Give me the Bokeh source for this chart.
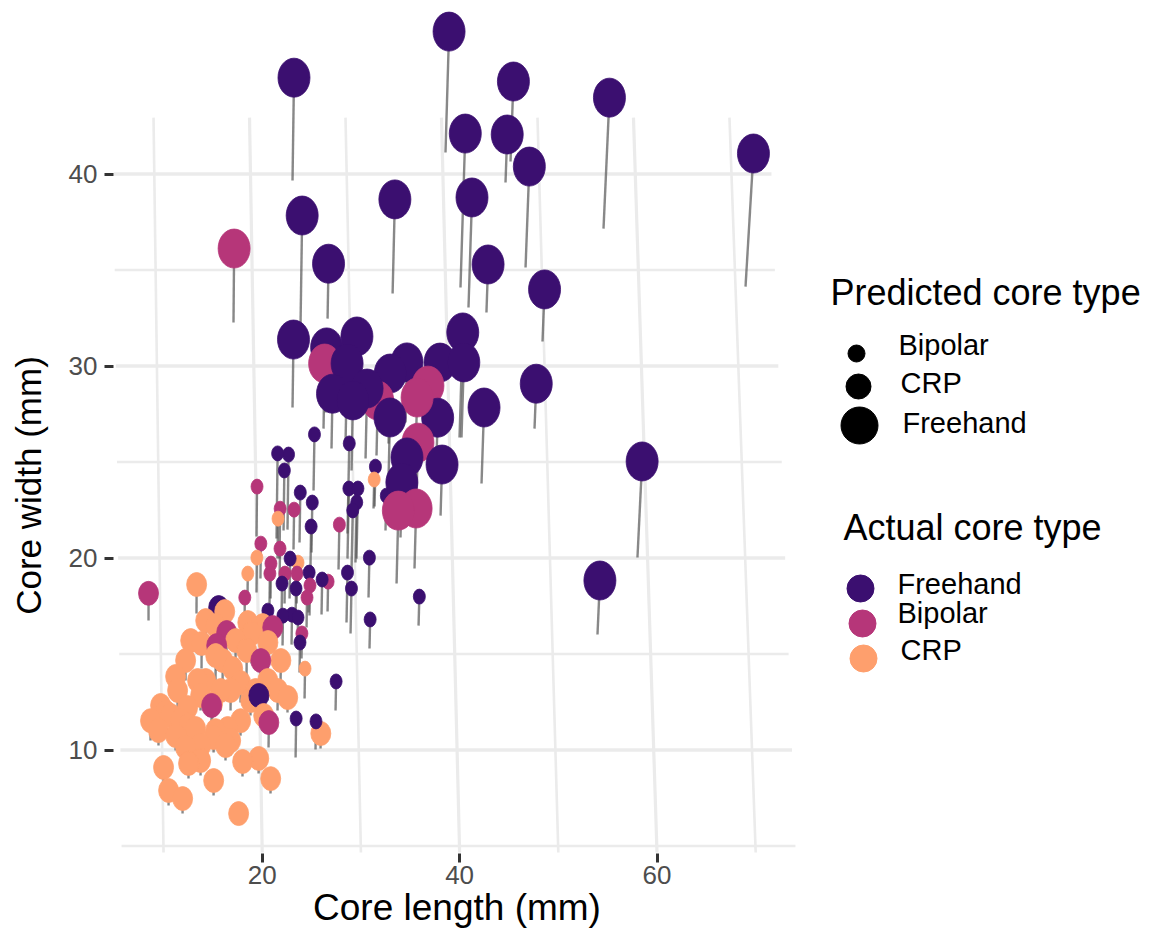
import numpy as np
from bokeh.plotting import figure
from bokeh.models import Range1d, FixedTicker, ColumnDataSource
from bokeh.layouts import row
from bokeh.embed import file_html
from bokeh.resources import INLINE
from bokeh.core.properties import value

FONT = "Liberation Sans"

# ---- categories & colours -------------------------------------------------
actual_levels = ["Freehand", "Bipolar", "CRP"]
predicted_levels = ["Bipolar", "CRP", "Freehand"]
actual_colors = {"Freehand": "#3B0F70", "Bipolar": "#B63679", "CRP": "#FE9F6D"}
head_w = {"Bipolar": 12, "CRP": 20, "Freehand": 32}
head_h = {"Bipolar": 15, "CRP": 24, "Freehand": 39}

# ---- data: (core length mm, core width mm, elevation) per actual/predicted group
ff_length = [38.57, 23.07, 45.16, 54.58, 40.09, 44.65, 68.97, 46.68, 40.90, 33.21, 23.88, 26.62,
             42.72, 48.40, 23.07, 47.59, 42.22, 58.02, 53.97, 38.07, 39.99, 37.87, 40.19, 37.66,
             34.51, 32.80, 32.80, 34.51, 34.01, 26.41, 29.45, 28.44, 27.02, 29.05, 30.47]
ff_width = [41.12, 39.66, 40.65, 37.16, 34.09, 39.56, 34.14, 35.13, 33.05, 33.78, 32.11, 32.47,
            32.79, 31.28, 27.84, 26.74, 23.88, 20.03, 16.02, 22.21, 26.28, 27.58, 26.28, 25.23,
            27.06, 25.96, 24.19, 22.11, 21.07, 27.58, 27.89, 25.96, 25.70, 24.56, 25.18]
ff_elev = [6.30, 5.36, 4.17, 6.82, 8.02, 2.50, 6.93, 5.26, 5.73, 4.90, 5.73, 2.86,
           2.50, 2.71, 3.54, 2.34, 3.96, 5.00, 2.81, 2.66, 5.47, 2.60, 3.91, 2.08,
           3.13, 3.65, 3.13, 3.13, 2.86, 3.39, 3.65, 4.17, 2.86, 3.65, 3.65]

bf_length = [17.09, 26.21, 31.58, 36.65, 35.53, 35.63, 33.61, 35.43]
bf_width = [32.27, 26.74, 25.34, 26.38, 25.23, 23.15, 18.67, 19.45]
bf_elev = [3.85, 3.39, 2.86, 2.60, 3.13, 2.86, 3.80, 3.13]

fb_length = [25.20, 28.64, 21.45, 22.56, 22.16, 31.38, 28.64, 29.55, 29.45, 29.05, 23.78, 24.99,
             24.89, 32.49, 30.77, 35.84, 22.77, 24.69, 26.01, 28.54, 28.95, 21.96, 23.38, 20.54,
             22.06, 22.97, 23.58, 23.78, 30.87, 27.43, 23.38, 25.40]
fb_width = [23.52, 21.28, 21.02, 21.48, 21.43, 22.68, 19.97, 19.97, 19.77, 19.35, 20.81, 20.29,
            19.56, 21.43, 17.94, 16.48, 17.89, 17.16, 17.06, 16.64, 16.07, 16.85, 16.85, 15.70,
            15.44, 15.49, 15.34, 14.04, 15.29, 12.06, 9.61, 10.03]
fb_elev = [2.92, 4.69, 4.43, 3.91, 3.13, 2.08, 3.65, 3.65, 3.13, 3.13, 2.60, 2.60,
           2.08, 1.82, 2.08, 1.51, 2.08, 2.08, 1.82, 2.60, 2.34, 1.82, 1.56, 1.56,
           1.56, 1.56, 1.56, 1.56, 1.51, 1.51, 2.03, 1.46]

fc_length = [19.63, 15.57]
fc_width = [11.54, 16.12]
fc_elev = [1.30, 1.30]

bb_length = [19.42, 21.75, 23.17, 27.73, 19.82, 21.75, 20.84, 20.74, 22.26, 23.48, 26.62, 24.79,
             24.49, 18.21, 23.98]
bb_width = [21.12, 19.97, 20.44, 19.40, 18.93, 18.41, 17.89, 17.63, 17.63, 17.63, 17.21, 17.01,
            16.38, 16.64, 14.77]
bb_elev = [2.60, 2.60, 2.08, 2.34, 1.82, 2.08, 1.82, 1.56, 1.56, 1.56, 1.56, 1.56,
           1.56, 1.30, 1.30]

cb_length = [31.28, 21.55, 19.42, 23.58, 18.51, 24.29]
cb_width = [22.58, 19.97, 18.20, 18.20, 17.89, 12.68]
cb_elev = [1.51, 2.08, 1.82, 1.56, 1.30, 1.56]

bc_length = [8.48, 16.38, 15.37, 21.04, 19.82, 14.86, 20.64]
bc_width = [16.75, 14.82, 14.14, 15.34, 13.10, 11.28, 10.13]
bc_elev = [1.41, 1.30, 1.30, 1.04, 1.56, 1.04, 1.30]

cc_length = [13.34, 16.18, 14.26, 18.51, 18.91, 20.54, 13.85, 18.41, 15.98, 11.22, 13.44, 17.80,
             20.54, 21.55, 22.56, 11.42, 14.96, 9.70, 12.43, 20.13, 25.91, 9.49, 11.22, 13.24,
             15.27, 16.49, 12.53, 10.00, 12.53, 12.23, 15.07, 18.00, 19.63, 15.07, 20.84, 10.51,
             11.93, 17.60, 15.27, 12.23, 16.79, 18.81, 13.75, 10.71, 17.80, 13.75, 16.79, 20.03,
             10.20, 11.72, 14.26, 15.78, 16.99, 19.32, 12.74, 17.29, 15.27, 21.86, 8.68, 13.75,
             16.28]
cc_width = [17.11, 15.91, 15.44, 15.08, 14.51, 14.04, 14.25, 13.88, 13.36, 12.79, 12.32, 12.47,
            12.58, 12.06, 11.95, 12.06, 11.64, 11.54, 11.43, 11.02, 10.08, 10.23, 9.97, 10.34,
            10.23, 10.34, 10.49, 8.31, 8.52, 9.35, 9.87, 8.62, 8.78, 7.63, 7.73, 7.11,
            6.69, 6.17, 15.18, 13.62, 12.06, 11.80, 12.06, 11.02, 10.75, 9.45, 9.71, 15.44,
            11.20, 10.76, 12.58, 12.06, 13.20, 12.32, 14.40, 14.40, 13.62, 13.62, 10.49, 8.67,
            9.45]
cc_elev = [1.51, 1.30, 1.30, 1.56, 1.56, 1.56, 1.30, 1.30, 1.30, 1.04, 1.30, 1.04,
           1.04, 1.04, 0.78, 1.04, 0.78, 0.78, 0.78, 0.78, 0.78, 0.78, 0.78, 0.78,
           0.78, 0.78, 0.78, 0.78, 0.78, 0.78, 0.78, 0.78, 0.78, 0.78, 0.78, 0.78,
           0.78, 0.52, 1.30, 1.04, 1.04, 0.78, 0.78, 0.78, 0.78, 0.78, 0.78, 1.04,
           0.78, 0.78, 1.04, 1.04, 1.04, 0.78, 1.30, 1.30, 1.30, 1.04, 1.04, 0.78,
           0.78]

groups = [
    ("Freehand", "Freehand", ff_length, ff_width, ff_elev),
    ("Bipolar", "Freehand", bf_length, bf_width, bf_elev),
    ("Freehand", "Bipolar", fb_length, fb_width, fb_elev),
    ("Freehand", "CRP", fc_length, fc_width, fc_elev),
    ("Bipolar", "Bipolar", bb_length, bb_width, bb_elev),
    ("CRP", "Bipolar", cb_length, cb_width, cb_elev),
    ("Bipolar", "CRP", bc_length, bc_width, bc_elev),
    ("CRP", "CRP", cc_length, cc_width, cc_elev),
]

# tick labels
x_ticks = [20, 40, 60]
y_ticks = [10, 20, 30, 40]

# ---- assemble -------------------------------------------------------------
L, W, E, A, P = [], [], [], [], []
for act, pred, ln, wd, ev in groups:
    L += ln; W += wd; E += ev; A += [act] * len(ln); P += [pred] * len(ln)
L = np.array(L); W = np.array(W); E = np.array(E)
order = np.argsort(-W, kind="stable")      # far (wide) first, near on top
L, W, E = L[order], W[order], E[order]
A = [A[i] for i in order]; P = [P[i] for i in order]

lean = 0.00192                              # perspective lean of the stems
head_x = L + E * lean * (L - 8.7)
head_y = W + E

src = ColumnDataSource(dict(
    x0=L, y0=W, x1=head_x, y1=head_y,
    color=[actual_colors[a] for a in A],
    w=[head_w[p] for p in P], h=[head_h[p] for p in P],
))

# ---- y-axis title strip --------------------------------------------------------
yt = figure(width=50, height=930, output_backend="svg", toolbar_location=None,
            x_range=Range1d(0, 50), y_range=Range1d(853, 0), min_border=0)
yt.axis.visible = False
yt.grid.visible = False
yt.outline_line_color = None
yt.text(x=[28], y=[485], text=["Core width (mm)"], angle=np.pi / 2,
        text_font=value(FONT), text_font_size="35px", text_color="black",
        text_align="center", text_baseline="middle")

# ---- main figure ------------------------------------------------------------
p = figure(width=750, height=930, output_backend="svg", toolbar_location=None,
           x_range=Range1d(4.93, 74.54), y_range=Range1d(4.61, 49.04),
           min_border_left=63, min_border_right=0, min_border_top=0, min_border_bottom=77)
p.outline_line_color = None
p.xgrid.visible = False
p.ygrid.visible = False
p.background_fill_color = "white"
p.border_fill_color = "white"

# tilted panel grid (perspective of the base plane)
gx = np.array([10, 20, 30, 40, 50, 60, 70], dtype=float)
gx_major = np.isin(gx, x_ticks)
p.segment(x0=gx, y0=np.full_like(gx, 4.66), x1=0.9726 * gx - 0.74, y1=np.full_like(gx, 42.94),
          line_color="#EBEBEB", line_width=np.where(gx_major, 3.2, 2.6))
gy = np.array([5, 10, 15, 20, 25, 30, 35, 40], dtype=float)
gy_major = np.isin(gy, y_ticks)
p.segment(x0=5.745 - (gy - 5) * 0.02316, y0=gy, x1=74.03 - (gy - 5) * 0.06947, y1=gy,
          line_color="#EBEBEB", line_width=np.where(gy_major, 3.4, 2.6))

# stems then heads
p.segment(x0="x0", y0="y0", x1="x1", y1="y1", source=src,
          line_color="#555555", line_alpha=0.7, line_width=2.4)
p.ellipse(x="x1", y="y1", width="w", height="h", width_units="screen", height_units="screen",
          source=src, fill_color="color", line_color="color", line_width=0.8)

for ax in (p.xaxis, p.yaxis):
    ax.axis_line_color = None
    ax.major_tick_line_color = "#333333"
    ax.major_tick_line_width = 3
    ax.major_tick_out = 9
    ax.major_tick_in = 0
    ax.minor_tick_line_color = None
    ax.major_label_text_font = FONT
    ax.major_label_text_font_size = "26px"
    ax.major_label_text_color = "#4D4D4D"
    ax.axis_label_text_font = FONT
    ax.axis_label_text_font_style = "normal"
    ax.axis_label_text_color = "black"
p.xaxis.axis_label_text_font_size = "37px"
p.xaxis.ticker = FixedTicker(ticks=x_ticks)
p.yaxis.ticker = FixedTicker(ticks=y_ticks)
p.xaxis.axis_label = "Core length (mm)"
p.xaxis.major_label_standoff = 3
p.xaxis.axis_label_standoff = 0
p.yaxis.major_label_standoff = 7

# ---- legend panel (frame is aligned with the main frame: 853 px tall) -------
lg = figure(width=353, height=930, output_backend="svg", toolbar_location=None,
            x_range=Range1d(800, 1153), y_range=Range1d(853, 0),
            min_border=0)
lg.axis.visible = False
lg.grid.visible = False
lg.outline_line_color = None

lg.text(x=[830], y=[292], text=["Predicted core type"], text_font=value(FONT),
        text_font_size="36px", text_color="black", text_baseline="alphabetic")
lg.scatter(x=[856, 858, 859], y=[353, 386, 425], size=[17, 25, 37],
           fill_color="black", line_color="black")
lg.text(x=[898, 900, 902], y=[344, 382, 422], text=predicted_levels, text_font=value(FONT),
        text_font_size="29px", text_color="black", text_baseline="alphabetic")

lg.text(x=[843], y=[527], text=["Actual core type"], text_font=value(FONT),
        text_font_size="36px", text_color="black", text_baseline="alphabetic")
lg.scatter(x=[860, 862, 863], y=[588, 623, 658], size=27,
           fill_color=[actual_colors[a] for a in actual_levels],
           line_color=[actual_colors[a] for a in actual_levels])
lg.text(x=[897, 897, 900], y=[583, 612, 649], text=actual_levels, text_font=value(FONT),
        text_font_size="29px", text_color="black", text_baseline="alphabetic")

layout = row(yt, p, lg)
open("out.html", "w").write(file_html(layout, INLINE))
